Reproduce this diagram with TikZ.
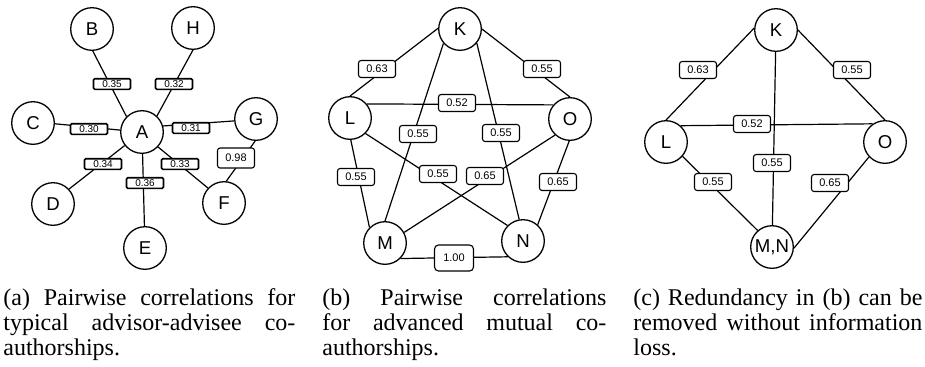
\documentclass[tikz,border=0pt]{standalone}
\usepackage{fontspec}
\setmainfont{Liberation Serif}
\newfontfamily\arialf{Liberation Sans}
\hbadness=10000
\begin{document}
\begin{tikzpicture}[x=0.5pt,y=-0.5pt,
  vtx/.style={circle,draw,fill=white,line width=0.65pt,minimum size=21.3pt,inner sep=0pt,font=\arialf\fontsize{9.3}{11}\selectfont},
  edge/.style={line width=0.6pt},
  lbla/.style={draw,fill=white,rounded corners=0.6pt,line width=0.8pt,minimum width=18.5pt,minimum height=5.3pt,inner sep=0pt,font=\arialf\fontsize{5}{5}\selectfont},
  lblb/.style={draw,fill=white,rounded corners=1.3pt,line width=0.55pt,minimum width=18.5pt,minimum height=8.5pt,inner sep=0pt,font=\arialf\fontsize{5.5}{6}\selectfont},
  captxt/.style={anchor=base west,inner sep=0pt}
]
\fill[white] (0,0) rectangle (925,366);
\useasboundingbox (0,0) rectangle (925,366);

% ---------- panel (a)
\node[vtx] (A) at (142,132) {A};
\node[vtx] (B) at (92,29) {B};
\node[vtx] (H) at (193,28) {H};
\node[vtx] (C) at (33,123) {C};
\node[vtx] (G) at (256,119) {G};
\node[vtx] (D) at (53,204) {D};
\node[vtx] (F) at (224,203) {F};
\node[vtx] (E) at (145,248) {E};
\draw[edge] (B.-88) -- (A.135);
\draw[edge] (H.-90) -- (A.47);
\draw[edge] (C.-2) -- (A.175);
\draw[edge] (A.16) -- (G.185);
\draw[edge] (A.218) -- (D.43);
\draw[edge] (A.-43) -- (F.137);
\draw[edge] (A) -- (E);
\draw[edge] (G.-92) -- (F.84);
\node[lbla] (aAB) at (112,84) {0.35};
\node[lbla] (aAH) at (174,84) {0.32};
\node[lbla] (aAC) at (89,129) {0.30};
\node[lbla] (aAG) at (191,128) {0.31};
\node[lbla] (aAD) at (103,164) {0.34};
\node[lbla] (aAF) at (180,164) {0.33};
\node[lbla] (aAE) at (145,183) {0.36};
\node[lblb,minimum height=10pt] (aGF) at (236,158) {0.98};

% ---------- panel (b)
\node[vtx] (bK) at (460,29) {K};
\node[vtx] (bL) at (350,118) {L};
\node[vtx] (bO) at (570,119) {O};
\node[vtx] (bM) at (385,243) {M};
\node[vtx] (bN) at (523,241) {N};
\draw[edge] (bK.178) -- (bL.90);
\draw[edge] (bK.0) -- (bO.90);
\draw[edge] (bK.221) -- (bM.90);
\draw[edge] (bK.-40) -- (bN.100);
\draw[edge] (bL.40) -- (bO.140);
\draw[edge] (bL.-88) -- (bM.135);
\draw[edge] (bL.-45) -- (bN.135);
\draw[edge] (bO.227) -- (bM.29);
\draw[edge] (bO.-92) -- (bN.48);
\draw[edge] (bM.-45) -- (bN.226);
\node[lblb] (bKL) at (377,69) {0.63};
\node[lblb] (bKO) at (542,69) {0.55};
\node[lblb] (bLO) at (457,103) {0.52};
\node[lblb] (bKM) at (418,134) {0.55};
\node[lblb] (bKN) at (501,133) {0.55};
\node[lblb] (bLM) at (356,177) {0.55};
\node[lblb] (bLN) at (438,174) {0.55};
\node[lblb] (bOM) at (485,176) {0.65};
\node[lblb] (bON) at (558,182) {0.65};
\node[lblb,minimum width=19.5pt,minimum height=13pt,rounded corners=2pt] (bMN) at (454,258) {1.00};

% ---------- panel (c)
\node[vtx] (cK) at (776,30) {K};
\node[vtx] (cL) at (666,142) {L};
\node[vtx] (cO) at (885,142) {O};
\node[vtx] (cMN) at (772,247) {M,N};
\draw[edge] (cK.175) -- (cL.90);
\draw[edge] (cK.0) -- (cO.90);
\draw[edge] (cK) -- (cMN);
\draw[edge] (cL.48) -- (cO.124);
\draw[edge] (cL.-41) -- (cMN.131);
\draw[edge] (cO.223) -- (cMN.-3);
\node[lblb] (cKL) at (698,70) {0.63};
\node[lblb] (cKO) at (852,70) {0.55};
\node[lblb] (cLO) at (752,124) {0.52};
\node[lblb] (cKMN) at (772,163) {0.55};
\node[lblb] (cLMN) at (713,182) {0.55};
\node[lblb] (cOMN) at (830,183) {0.65};

% ---------- captions
\node[captxt] (capa) at (3,305) {\parbox[t]{146pt}{\fontsize{12}{12.6}\selectfont
  (a) Pairwise correlations for\linebreak typical advisor-advisee co-\linebreak authorships.}};
\node[captxt] (capb) at (322,305) {\parbox[t]{142pt}{\fontsize{12}{12.6}\selectfont
  (b) Pairwise correlations\linebreak for advanced mutual co-\linebreak authorships.}};
\node[captxt] (capc) at (633,305) {\parbox[t]{144.5pt}{\fontsize{12}{12.6}\selectfont
  (c) Redundancy in (b) can be\linebreak removed without information\linebreak loss.}};
\end{tikzpicture}
\end{document}
